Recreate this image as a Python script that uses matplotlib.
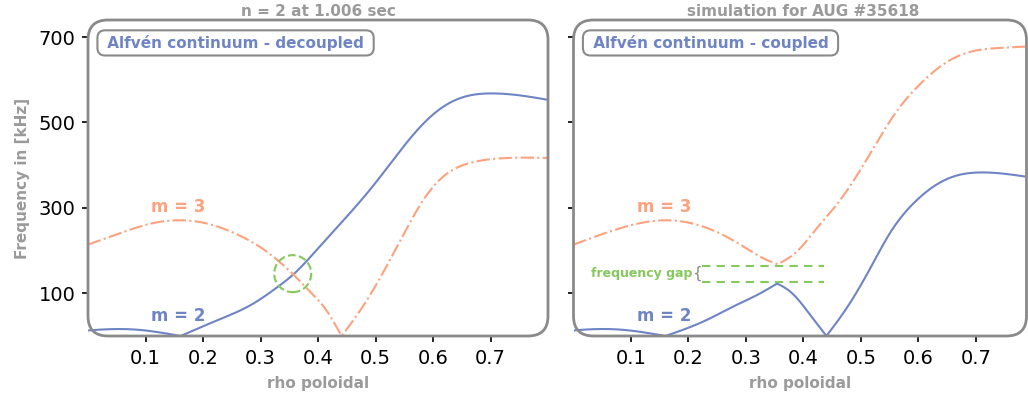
import numpy as np
import matplotlib
matplotlib.use("Agg")
from matplotlib import pyplot as plt
from matplotlib.patches import FancyBboxPatch, Ellipse

# decoupled continuum (left panel)
rho_dec_m2 = [0.0, 0.01, 0.083, 0.161, 0.227, 0.285, 0.331, 0.357, 0.40, 0.447,
              0.499, 0.546, 0.592, 0.638, 0.708, 0.748, 0.80]
f_dec_m2 = [13, 14, 15, 0, 38, 74, 116, 144, 205, 275,
            357, 439, 509, 552, 568, 564, 553]

rho_dec_m3 = [0.0, 0.054, 0.112, 0.161, 0.198, 0.256, 0.303, 0.331, 0.357, 0.389,
              0.412, 0.441, 0.476, 0.517, 0.552, 0.587, 0.621, 0.661, 0.708, 0.80]
f_dec_m3 = [214, 240, 264, 271, 266, 240, 205, 176, 144, 100,
            65, 0, 65, 158, 246, 326, 377, 404, 415, 417]

# coupled continuum (right panel)
rho_cpl_m2 = [0.0, 0.009, 0.081, 0.16, 0.226, 0.284, 0.325, 0.354, 0.377, 0.412,
              0.44, 0.475, 0.516, 0.55, 0.597, 0.637, 0.67, 0.707, 0.788]
f_cpl_m2 = [13, 14, 15, 0, 34, 73, 100, 123, 104, 49,
            0, 65, 158, 240, 318, 359, 377, 383, 373]

rho_cpl_m3 = [0.0, 0.053, 0.16, 0.255, 0.301, 0.33, 0.355, 0.388, 0.423, 0.458,
              0.493, 0.527, 0.562, 0.603, 0.643, 0.689, 0.747, 0.788]
f_cpl_m3 = [214, 240, 271, 240, 205, 182, 168, 197, 252, 308,
            376, 452, 526, 590, 636, 665, 675, 678]

gap_rho = [0.2235, 0.435]
gap_f = [164, 127]
crossing = (0.356, 146)

xticks = [0.1, 0.2, 0.3, 0.4, 0.5, 0.6, 0.7]
yticks = [100, 300, 500, 700]

blue = "#6f84c4"
orange = "#fca27e"
green = "#84c95c"
gray = "#8a8a8a"
lightgray = "#9a9a9a"


def spline(xs, ys, n=300):
    # natural cubic spline through the read points
    xs = np.array(xs, float)
    ys = np.array(ys, float)
    k = len(xs)
    h = np.diff(xs)
    A = np.zeros((k, k))
    r = np.zeros(k)
    A[0, 0] = A[-1, -1] = 1
    for i in range(1, k - 1):
        A[i, i - 1] = h[i - 1]
        A[i, i] = 2 * (h[i - 1] + h[i])
        A[i, i + 1] = h[i]
        r[i] = 6 * ((ys[i + 1] - ys[i]) / h[i] - (ys[i] - ys[i - 1]) / h[i - 1])
    M = np.linalg.solve(A, r)
    xx = np.linspace(xs[0], xs[-1], n)
    i = np.clip(np.searchsorted(xs, xx, side="right") - 1, 0, k - 2)
    a = xs[i + 1] - xx
    b = xx - xs[i]
    hh = h[i]
    yy = (M[i] * a**3 + M[i + 1] * b**3) / (6 * hh) \
        + (ys[i] / hh - M[i] * hh / 6) * a + (ys[i + 1] / hh - M[i + 1] * hh / 6) * b
    return xx, yy


def pieces(xs, ys, cusps):
    # split at cusps so the V shapes stay sharp
    idx = [0] + [xs.index(c) for c in cusps] + [len(xs) - 1]
    px, py = [], []
    for a, b in zip(idx[:-1], idx[1:]):
        x, y = spline(xs[a:b + 1], ys[a:b + 1])
        px.append(x)
        py.append(y)
    return np.concatenate(px), np.concatenate(py)


fig = plt.figure(figsize=(10.28, 3.96), dpi=100)
ax1 = fig.add_axes([88 / 1028, 60 / 396, 460 / 1028, 316 / 396])
ax2 = fig.add_axes([573.5 / 1028, 60 / 396, 453 / 1028, 316 / 396])

for ax, xmax, w in ((ax1, 0.8, 460), (ax2, 0.788, 453)):
    ax.set_xlim(0, xmax)
    ax.set_ylim(0, 740)
    for s in ax.spines.values():
        s.set_visible(False)
    frame = FancyBboxPatch((0, 0), 1, 1, boxstyle="round,pad=0,rounding_size=%f" % (20 / w),
                           mutation_aspect=w / 316, transform=ax.transAxes,
                           fc="none", ec=gray, lw=2, clip_on=False, zorder=5)
    ax.add_patch(frame)
    ax.set_xticks(xticks)
    ax.set_xticklabels([str(t) for t in xticks])
    ax.set_yticks(yticks)
    ax.tick_params(labelsize=14, length=4, width=1.2, pad=5)
    ax.set_xlabel("rho poloidal", color=lightgray, fontweight="bold", fontsize=11, labelpad=6)
    ax.patch.set_visible(False)

ax1.set_ylabel("Frequency in [kHz]", color=lightgray, fontweight="bold", fontsize=11, labelpad=6)
ax2.set_yticklabels([])

# left panel
x, y = pieces(rho_dec_m2, f_dec_m2, [0.161])
ax1.plot(x, y, color=blue, lw=1.5)
x, y = pieces(rho_dec_m3, f_dec_m3, [0.441])
ax1.plot(x, y, color=orange, lw=1.5, ls="-.")
ax1.add_patch(Ellipse(crossing, 37 / 460 * 0.8, 37 / 316 * 740, fc="none", ec=green,
                      lw=1.5, ls="--", zorder=4))

# right panel
x, y = pieces(rho_cpl_m2, f_cpl_m2, [0.16, 0.354, 0.44])
ax2.plot(x, y, color=blue, lw=1.5)
x, y = pieces(rho_cpl_m3, f_cpl_m3, [0.355])
ax2.plot(x, y, color=orange, lw=1.5, ls="-.")
for g in gap_f:
    ax2.plot(gap_rho, [g, g], color=green, lw=1.5, ls=(0, (4, 3)))
ax2.text(0.2155, np.mean(gap_f), "{", color=gray, fontsize=11,
         ha="center", va="center")
ax2.text(0.2075, np.mean(gap_f), "frequency gap", color=green,
         fontweight="bold", fontsize=9, ha="right", va="center")

for ax, name, w in ((ax1, "decoupled", 460), (ax2, "coupled", 453)):
    ax.text(0.157, 302, "m = 3", color=orange, fontweight="bold", fontsize=12, ha="center", va="center")
    ax.text(0.157, 47, "m = 2", color=blue, fontweight="bold", fontsize=12, ha="center", va="center")
    ax.text(14 / w, 0.9275, " Alfvén continuum - " + name + " ", transform=ax.transAxes,
            color=blue, fontweight="bold", fontsize=11, ha="left", va="center",
            bbox=dict(boxstyle="round,pad=0.3,rounding_size=0.5", fc="white", ec=gray, lw=1.5))

ax1.set_title("n = 2 at 1.006 sec", color=lightgray, fontweight="bold", fontsize=11, pad=3)
ax2.set_title("simulation for AUG #35618", color=lightgray, fontweight="bold", fontsize=11, pad=3)
ax2.title.set_x(460 / 453 / 2)

fig.savefig("out.png", dpi=100)
